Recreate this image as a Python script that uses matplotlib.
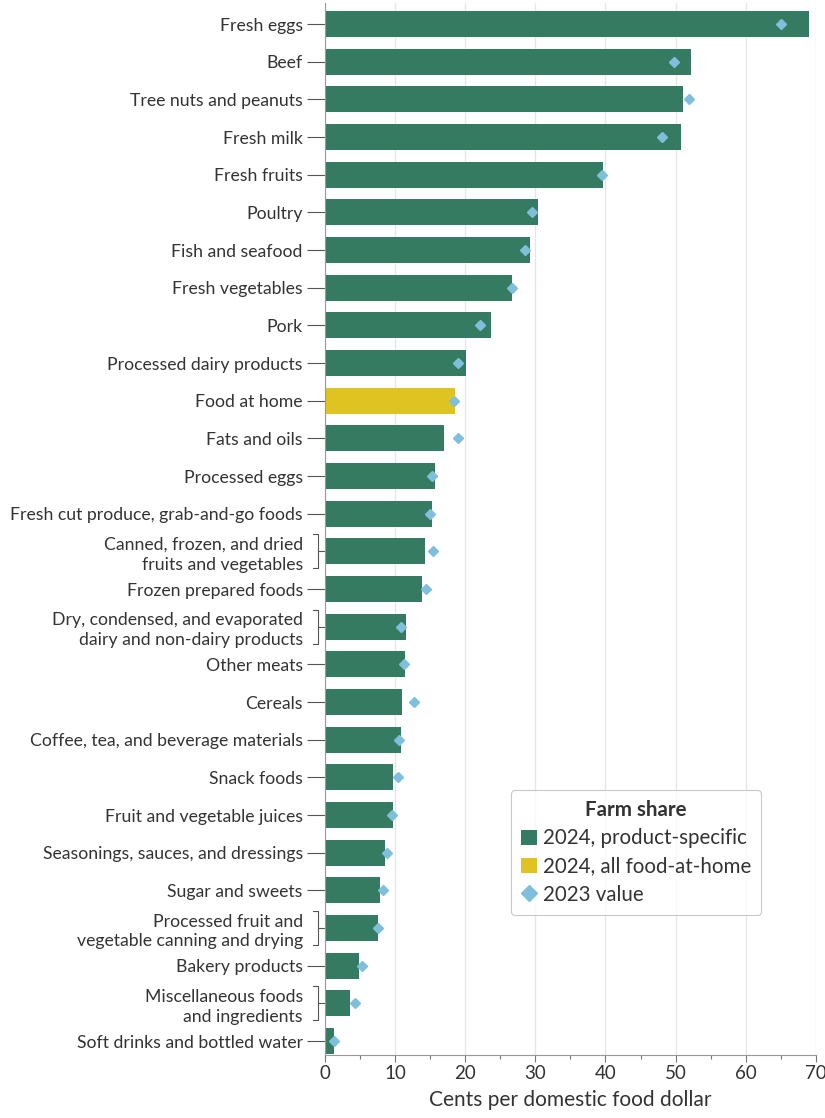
import numpy as np
import matplotlib
matplotlib.use("Agg")
import matplotlib.pyplot as plt
from matplotlib.patches import Patch
from matplotlib.lines import Line2D

plt.rcParams['font.family'] = ['Lato', 'DejaVu Sans']

# farm share, cents per domestic food dollar
labels = [
    "Fresh eggs", "Beef", "Tree nuts and peanuts", "Fresh milk", "Fresh fruits",
    "Poultry", "Fish and seafood", "Fresh vegetables", "Pork",
    "Processed dairy products", "Food at home", "Fats and oils", "Processed eggs",
    "Fresh cut produce, grab-and-go foods",
    "Canned, frozen, and dried\nfruits and vegetables",
    "Frozen prepared foods",
    "Dry, condensed, and evaporated\ndairy and non-dairy products",
    "Other meats", "Cereals", "Coffee, tea, and beverage materials", "Snack foods",
    "Fruit and vegetable juices", "Seasonings, sauces, and dressings",
    "Sugar and sweets",
    "Processed fruit and\nvegetable canning and drying",
    "Bakery products",
    "Miscellaneous foods\nand ingredients",
    "Soft drinks and bottled water",
]
share_2024 = [69.0, 52.2, 51.0, 50.8, 39.6, 30.4, 29.3, 26.7, 23.7, 20.1, 18.5, 16.9,
              15.7, 15.2, 14.2, 13.9, 11.6, 11.4, 11.0, 10.8, 9.7, 9.7, 8.5, 7.8,
              7.6, 4.9, 3.5, 1.3]
share_2023 = [65.1, 49.8, 51.9, 48.0, 39.5, 29.5, 28.5, 26.6, 22.1, 18.9, 18.4, 19.0,
              15.3, 15.0, 15.4, 14.4, 10.9, 11.2, 12.7, 10.6, 10.4, 9.6, 8.8, 8.2,
              7.5, 5.3, 4.3, 1.3]

GREEN = "#357b62"
YELLOW = "#dfc323"
BLUE = "#7fbfdc"
TXT = "#333333"
GRID = "#e6e6e6"

y = np.arange(len(labels))
colors = [YELLOW if l == "Food at home" else GREEN for l in labels]

fig = plt.figure(figsize=(8.25, 11.18), dpi=100)
ax = fig.add_axes([0.394, 0.0564, 0.5948, 0.941])

ax.barh(y, share_2024, height=0.69, color=colors, zorder=2)
ax.plot(share_2023, y, linestyle="none", marker="D", markersize=5.5,
        color=BLUE, zorder=3)

ax.set_xlim(0, 70)
ax.set_ylim(27.37, -0.56)
ax.set_xticks(np.arange(0, 71, 10))
ax.set_xticks(np.arange(5, 70, 10), minor=True)
ax.grid(axis="x", color=GRID, linewidth=1, zorder=0)
ax.set_axisbelow(True)

ax.set_yticks(y)
ax.set_yticklabels(labels, fontsize=12.7, color=TXT, linespacing=1.3)
ax.tick_params(axis="y", length=13, width=0.8, color="#555555", pad=3)
ax.tick_params(axis="x", which="major", length=5, width=0.8, color="#777777",
               labelsize=13.5, labelcolor=TXT, pad=2)
ax.tick_params(axis="x", which="minor", length=3, width=0.8, color="#777777")
ax.set_xlabel("Cents per domestic food dollar", fontsize=15, color=TXT, labelpad=6)

for s in ["top", "right"]:
    ax.spines[s].set_visible(False)
for s in ["left", "bottom"]:
    ax.spines[s].set_color("#999999")
    ax.spines[s].set_linewidth(0.8)

# brackets for two-line labels
axw = fig.get_figwidth() * fig.dpi * 0.5948
px = lambda p: p / axw
trans = ax.get_yaxis_transform()
ticks = ax.yaxis.get_major_ticks()
for i, l in enumerate(labels):
    if "\n" in l:
        ticks[i].tick1line.set_markersize(5)
        xb = -px(7)
        xe = -px(12)
        h = 0.45
        ax.add_line(Line2D([xe, xb, xb, xe], [i - h, i - h, i + h, i + h],
                           transform=trans, color="#555555", lw=0.8, clip_on=False))

handles = [
    Patch(facecolor=GREEN, label="2024, product-specific"),
    Patch(facecolor=YELLOW, label="2024, all food-at-home"),
    Line2D([], [], linestyle="none", marker="D", markersize=8, color=BLUE,
           label="2023 value"),
]
leg = ax.legend(handles=handles, title="Farm share", loc="upper left",
                bbox_to_anchor=(0.379, 0.252), borderaxespad=0,
                fontsize=14.8, title_fontsize=14.8,
                frameon=True, fancybox=True, edgecolor="#bbbbbb",
                handlelength=0.75, handleheight=0.75, handletextpad=0.3,
                borderpad=0.5, labelspacing=0.4, labelcolor=TXT)
leg.get_title().set_fontweight("bold")
leg.get_title().set_color(TXT)
leg.get_frame().set_linewidth(0.8)

fig.savefig("out.png", dpi=100)
